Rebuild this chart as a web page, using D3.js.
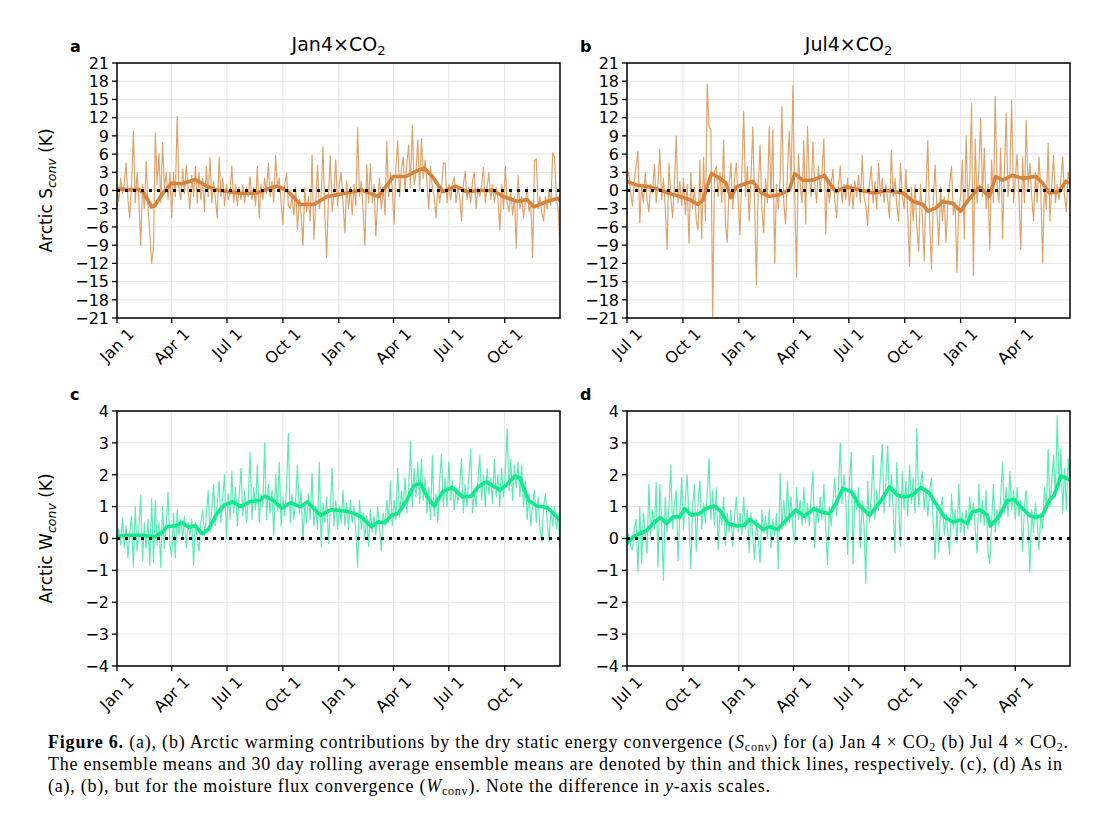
<!DOCTYPE html>
<html lang="en">
<head>
<meta charset="UTF-8">
<title>Arctic warming contributions</title>
<script src="https://cdnjs.cloudflare.com/ajax/libs/d3/7.8.5/d3.min.js"></script>
<style>
  body { margin: 0; background: #fff; }
  svg text { font-family: "DejaVu Sans", sans-serif; fill: #000; }
  svg .caption text { font-family: "Liberation Serif", serif; }
</style>
</head>
<body>
<div id="chart"></div>
<script>
// ensemble means, one value every 3 days (day 0, 3, 6 ... 729)
var thinStep = 3;

var sJanThin = [
  0.5,-1.8,2.0,-0.5,1.2,4.5,-1.5,-4.5,1.0,9.8,
  -2.0,3.0,-1.5,-9.0,1.0,-3.0,4.8,-2.5,-7.0,-12.0,
  -9.5,9.5,1.0,6.0,-2.0,7.9,0.5,3.0,-1.5,3.0,
  -4.5,3.0,-1.0,12.2,0.5,-1.5,3.5,-0.5,4.2,0.0,
  -3.0,2.5,-1.0,4.0,-2.0,3.0,-1.5,2.0,-3.5,4.0,
  -1.0,5.5,-2.0,1.5,-1.5,-4.5,5.5,-1.0,2.0,-2.5,
  1.0,-1.5,-0.5,4.0,-2.0,1.0,-2.5,0.5,-1.5,1.0,
  -2.0,0.5,-1.0,2.3,-1.5,0.5,-2.5,4.0,-4.5,1.0,
  -1.5,2.0,-0.5,4.5,-1.0,1.5,-2.0,5.8,0.5,2.0,
  -2.0,-5.5,1.0,2.9,-2.5,-3.0,-1.0,-4.0,0.5,-6.5,
  -1.5,-4.0,-9.0,0.5,-3.5,-1.0,-5.0,5.8,-8.0,-2.0,
  4.2,-3.0,-1.0,7.2,-4.0,-11.0,-1.0,5.7,-3.5,-0.5,
  5.0,-2.5,1.0,3.0,-2.0,-7.0,1.5,-3.0,0.5,-4.0,
  1.0,-2.5,10.3,-1.0,1.5,-3.5,-9.0,4.2,-2.0,4.4,
  -2.0,1.0,-7.5,-1.5,2.0,-3.0,0.5,-4.0,8.0,-1.0,
  3.0,0.5,-5.5,4.0,8.2,-1.0,3.5,5.5,0.0,4.5,
  7.5,0.5,10.8,1.0,3.0,8.3,0.0,8.6,2.0,5.0,
  1.5,-3.0,4.0,0.5,-1.0,-4.5,1.0,-2.0,0.5,4.5,
  4.5,-2.0,1.0,-1.5,1.0,2.2,-2.0,0.5,-1.0,-5.0,
  1.0,3.2,-1.5,0.5,-2.0,1.5,3.0,-3.0,0.5,-1.0,
  1.0,3.8,-2.0,0.5,3.0,-1.5,1.0,-2.0,0.5,-1.5,
  -6.5,1.0,-3.0,4.0,-2.0,-3.5,0.0,-4.0,-1.0,-9.5,
  2.5,-3.0,-1.0,-4.5,-2.0,0.5,-3.5,-2.0,-11.0,5.0,
  5.2,-3.0,-1.0,-3.5,-5.0,-1.0,-3.0,0.0,-2.5,6.2,
  5.5,-1.5,-3.0,-9.5
];

var sJulThin = [
  2.0,3.0,-0.5,-2.5,1.5,4.0,6.5,-5.3,1.0,-2.0,
  3.0,-1.5,-3.5,1.0,-0.5,4.3,-2.0,1.0,6.8,-1.5,
  2.0,-3.0,-9.7,4.5,-1.0,-4.5,1.0,9.0,-2.0,1.5,
  -2.5,2.0,-4.0,1.0,-8.7,3.0,-3.0,0.5,-5.0,-6.5,
  5.0,-8.0,5.5,-5.0,17.5,10.5,10.0,-20.7,3.0,4.0,
  -1.0,3.0,-2.0,8.3,-5.5,-8.5,1.0,4.5,-3.0,2.0,
  4.5,-2.0,-7.3,3.0,13.0,-1.0,4.0,-5.0,2.0,10.5,
  -2.0,-15.6,1.0,7.5,-3.0,-7.0,2.0,-2.0,10.5,-1.0,
  10.0,-12.0,1.0,-3.0,2.0,13.8,-2.0,-5.5,3.0,9.8,
  1.0,17.3,-1.0,-14.3,6.0,1.0,-2.0,8.2,-5.5,10.6,
  2.0,-1.0,8.0,1.0,-2.0,4.0,0.0,3.0,8.5,-7.2,
  2.0,-2.0,1.0,3.5,-1.5,-4.5,1.0,4.0,-2.0,1.0,
  -1.5,2.0,-2.5,1.0,-3.0,1.5,-1.0,2.5,-2.0,5.8,
  -1.0,-2.5,-5.7,1.0,4.0,-2.0,1.5,-3.0,4.5,-1.0,
  2.0,-2.0,1.0,-1.5,-4.5,6.7,-1.0,2.0,-2.5,-5.0,
  4.5,-1.0,-3.0,3.5,-4.0,-12.5,0.5,-5.0,1.0,-6.0,
  -10.0,1.0,-4.0,-11.6,0.0,8.2,-5.0,-13.0,-2.0,4.2,
  -3.0,-9.0,0.5,-5.0,-1.0,-8.5,-2.0,1.0,4.0,-4.0,
  -2.0,-13.5,-3.0,-1.0,5.0,-8.0,9.0,-2.0,2.0,14.3,
  -14.0,8.5,-2.0,3.0,11.8,-1.0,7.0,-3.0,1.0,-9.7,
  5.0,-2.0,15.5,1.0,-2.0,7.0,-8.0,3.0,12.8,-1.0,
  3.0,14.8,-2.0,2.0,6.0,-1.0,-9.7,5.5,-2.0,11.6,
  0.5,4.5,-1.0,-5.0,3.0,-2.0,5.5,0.0,-12.0,1.0,
  -3.0,7.8,-5.0,1.0,5.8,-2.0,1.0,-1.5,2.0,5.5,
  -1.0,-3.5,3.0,1.0
];

var wJanThin = [
  0.0,0.3,-0.2,0.65,-0.3,0.4,-0.6,0.2,0.7,-0.9,
  1.0,-0.4,0.3,1.35,-0.7,0.5,-0.3,0.6,-0.85,1.25,
  -0.75,1.2,-0.2,0.5,-0.9,1.0,-0.3,0.4,1.45,-0.2,
  -0.55,0.8,-0.6,0.9,0.1,0.6,0.0,0.7,-0.3,0.5,
  0.1,0.6,-0.85,0.5,0.0,-0.4,0.5,0.9,0.1,0.7,
  1.5,0.2,0.9,1.7,0.4,1.1,1.8,0.5,1.3,2.0,
  0.0,1.4,0.6,2.1,0.8,1.6,0.4,1.3,2.2,0.7,
  1.5,0.5,1.2,2.7,0.6,1.6,0.9,2.3,0.5,1.4,
  1.0,3.0,0.6,1.7,0.8,1.5,0.1,2.0,0.9,2.4,
  0.4,1.3,0.7,1.6,3.3,0.5,1.4,0.6,1.2,2.3,
  0.8,1.5,-0.1,1.1,0.5,1.4,0.6,2.05,0.4,1.0,
  0.3,2.4,-0.25,1.1,0.5,1.3,-0.15,0.9,2.2,0.4,
  1.2,0.3,1.0,0.5,1.5,0.4,1.1,0.3,1.2,0.5,
  1.0,0.2,-0.9,1.2,0.3,0.8,0.0,0.7,-0.25,0.9,
  0.2,0.7,0.1,1.0,0.3,-0.4,0.8,0.4,1.2,0.5,
  1.8,0.4,1.2,0.6,2.2,0.7,1.5,0.9,1.9,0.8,
  1.5,3.05,1.0,2.2,1.3,2.4,1.1,2.5,1.2,1.9,
  0.8,1.6,0.6,2.6,0.7,1.4,0.5,1.8,2.65,1.0,
  1.9,1.0,2.4,1.2,1.8,0.9,1.6,1.1,1.7,2.5,
  0.8,1.7,1.0,1.9,2.8,0.8,1.5,1.0,1.8,2.6,
  1.2,2.0,1.0,2.2,1.4,1.9,1.1,2.5,1.3,2.0,
  1.0,2.2,1.3,2.1,3.45,1.5,2.5,1.2,2.3,1.6,
  2.4,1.3,2.3,1.0,1.8,0.6,1.4,0.4,1.1,1.5,
  0.5,1.3,0.3,-0.1,1.0,1.4,0.5,-0.1,0.9,0.4,
  1.0,0.3,0.8,-0.3
];

var wJulThin = [
  -0.2,0.15,-0.25,-0.35,0.3,0.6,-1.05,1.0,-0.8,0.8,
  0.2,-0.45,1.7,0.1,0.9,0.3,1.75,-0.9,1.7,0.4,
  -1.3,1.3,0.2,1.0,2.3,0.3,1.1,1.5,-0.7,0.8,
  1.9,0.3,1.2,2.0,0.5,-0.95,1.0,1.7,-0.4,1.2,
  1.8,0.3,1.1,0.5,1.4,2.5,0.6,1.5,0.4,1.6,
  -0.35,0.9,0.4,1.3,-0.2,0.8,0.2,0.9,-0.25,0.7,
  1.3,0.2,0.8,0.1,1.3,0.3,0.9,-0.45,0.8,0.1,
  -0.65,0.6,0.0,-0.75,0.9,0.2,0.7,0.0,0.9,-0.3,
  0.6,0.1,0.8,-0.95,2.05,0.3,1.2,0.4,1.8,0.5,
  1.3,0.3,-0.15,1.6,0.6,1.2,0.4,1.6,0.5,1.1,
  0.4,1.3,2.1,-0.3,1.0,0.5,1.3,0.6,1.7,0.3,
  -0.82,1.0,0.4,1.2,1.9,0.7,1.6,3.0,1.1,2.0,
  1.2,-0.5,1.8,2.7,-0.8,1.5,0.9,1.6,-0.3,1.2,
  0.4,-1.4,1.8,0.5,1.3,2.6,0.6,1.5,0.9,2.0,
  2.95,0.8,1.8,2.9,1.0,2.0,0.9,-0.45,2.4,1.1,
  -0.25,2.1,0.9,1.8,0.7,2.3,1.1,1.9,0.8,3.45,
  1.0,1.7,2.1,0.9,1.6,0.7,1.5,1.9,0.4,-0.65,
  1.0,-0.45,0.9,1.3,0.1,0.8,0.2,-0.5,1.4,0.3,
  0.9,-0.15,1.7,0.2,0.8,0.1,0.9,0.3,1.3,0.6,
  1.1,0.3,-0.45,1.7,0.5,1.2,0.4,1.5,-0.4,-0.8,
  0.5,1.7,0.2,0.9,0.4,1.3,2.4,0.8,1.6,0.7,
  2.1,0.9,1.5,0.6,1.6,0.7,1.2,-0.4,1.0,1.5,
  0.4,-1.05,0.9,0.2,1.1,0.5,-0.35,0.8,0.3,1.6,
  0.9,2.8,1.0,1.8,2.6,1.3,3.85,1.5,2.8,0.8,
  2.2,0.9,2.5,1.8
];

// 30 day rolling averages, read at the days where the curve turns
var sJanRollDay = [0,20,35,45,57,62,75,90,107,129,146,163,185,207,229,250,263,280,302,324,346,374,402,430,455,475,491,505,519,536,558,575,597,619,636,658,675,686,708,725,729];
var sJanRollVal = [0.3,0.1,0.2,-0.5,-2.7,-2.5,-0.5,1.2,1.1,1.8,0.8,0.1,-0.2,-0.5,-0.4,0.3,0.7,0,-2.3,-2.3,-1.0,-0.5,0.1,-1.0,2.3,2.3,3.1,3.7,2.3,-0.2,0.7,-0.2,0,0,-1.0,-1.8,-1.5,-2.7,-1.8,-1.3,-1.6];

var sJulRollDay = [0,15,37,54,70,87,103,117,125,139,153,163,171,180,196,207,221,235,251,267,276,289,306,325,333,344,361,383,405,427,454,471,487,495,508,519,536,549,560,580,596,607,618,634,651,673,684,695,711,722,729];
var sJulRollVal = [1.5,0.9,0.6,0.1,-0.5,-1.0,-1.5,-2.3,-1.5,2.8,2.0,1.2,-1.2,0.6,1.2,1.5,-0.4,-1.0,-0.7,0.1,2.8,1.7,1.7,2.5,1.2,-0.2,0.6,0.1,-0.4,0,-0.4,-1.8,-2.3,-3.4,-2.9,-1.8,-2.1,-3.4,-1.8,0.6,-1.0,2.3,1.7,2.5,2.0,2.3,1.2,-0.4,-0.2,1.5,1.2];

var wJanRollDay = [0,18,40,62,75,82,96,107,118,129,140,151,165,177,190,204,218,235,243,257,271,285,302,313,335,352,374,391,402,419,430,441,452,463,477,488,499,511,522,536,552,569,583,594,608,619,630,641,655,663,677,691,708,729];
var wJanRollVal = [0.07,0.1,0.1,0.05,0.2,0.37,0.4,0.5,0.35,0.4,0.15,0.3,0.8,1.05,1.15,1.0,1.15,1.2,1.33,1.2,0.95,1.12,1.0,1.15,0.73,0.9,0.87,0.78,0.68,0.37,0.52,0.5,0.73,0.8,1.2,1.65,1.73,1.3,1.02,1.47,1.6,1.3,1.33,1.62,1.78,1.65,1.52,1.68,1.96,1.9,1.2,1.02,0.97,0.58];

var wJulRollDay = [0,10,21,32,43,55,65,76,87,95,106,119,130,144,155,166,180,193,202,213,224,235,248,262,278,292,308,319,333,344,355,369,382,399,415,432,445,456,470,484,498,508,522,536,549,560,568,582,593,598,612,626,637,648,662,673,684,695,703,714,722,729];
var wJulRollVal = [-0.15,0.05,0.15,0.25,0.47,0.66,0.47,0.68,0.68,0.94,0.73,0.78,0.94,1.02,0.84,0.47,0.39,0.42,0.6,0.45,0.28,0.37,0.28,0.58,0.89,0.7,0.94,0.84,0.78,1.1,1.57,1.47,1.05,0.73,1.1,1.62,1.36,1.3,1.36,1.6,1.41,1.1,0.68,0.52,0.58,0.47,0.84,0.89,0.73,0.39,0.68,1.2,1.22,1.0,0.73,0.66,0.73,1.2,1.36,1.96,1.9,1.83];

// axis ticks
var janTickDays = [0, 90, 181, 273, 365, 455, 546, 638];
var janTickLabels = ['Jan 1', 'Apr 1', 'Jul 1', 'Oct 1', 'Jan 1', 'Apr 1', 'Jul 1', 'Oct 1'];
var julTickDays = [0, 92, 184, 274, 365, 457, 549, 639];
var julTickLabels = ['Jul 1', 'Oct 1', 'Jan 1', 'Apr 1', 'Jul 1', 'Oct 1', 'Jan 1', 'Apr 1'];
var sTicks = [21, 18, 15, 12, 9, 6, 3, 0, -3, -6, -9, -12, -15, -18, -21];
var wTicks = [4, 3, 2, 1, 0, -1, -2, -3, -4];

var width = 1095, height = 831;
var plotW = 443, plotH = 255;
var tickFont = 16;

var svg = d3.select('#chart')
  .append('svg')
  .attr('width', width)
  .attr('height', height);

function toPoints(vals) {
  return vals.map(function(v, i) { return { d: i * thinStep, v: v }; });
}
function zipPoints(days, vals) {
  return days.map(function(d, i) { return { d: d, v: vals[i] }; });
}

var panels = [
  { key: 'a', left: 117, top: 63, thin: sJanThin, rollD: sJanRollDay, rollV: sJanRollVal,
    ticks: sTicks, tickDays: janTickDays, tickLabels: janTickLabels, title: 'Jan', ylab: 'S',
    thinColor: '#dfa46c', thickColor: '#d5833d' },
  { key: 'b', left: 627, top: 63, thin: sJulThin, rollD: sJulRollDay, rollV: sJulRollVal,
    ticks: sTicks, tickDays: julTickDays, tickLabels: julTickLabels, title: 'Jul', ylab: null,
    thinColor: '#dfa46c', thickColor: '#d5833d' },
  { key: 'c', left: 117, top: 411, thin: wJanThin, rollD: wJanRollDay, rollV: wJanRollVal,
    ticks: wTicks, tickDays: janTickDays, tickLabels: janTickLabels, title: null, ylab: 'W',
    thinColor: '#5eeab4', thickColor: '#14e88c' },
  { key: 'd', left: 627, top: 411, thin: wJulThin, rollD: wJulRollDay, rollV: wJulRollVal,
    ticks: wTicks, tickDays: julTickDays, tickLabels: julTickLabels, title: null, ylab: null,
    thinColor: '#5eeab4', thickColor: '#14e88c' }
];

panels.forEach(drawPanel);

function drawPanel(p) {
  var yMax = d3.max(p.ticks), yMin = d3.min(p.ticks);
  var x = d3.scaleLinear().domain([0, 729]).range([p.left, p.left + plotW]);
  var y = d3.scaleLinear().domain([yMin, yMax]).range([p.top + plotH, p.top]);
  var bottom = p.top + plotH;

  var g = svg.append('g');

  g.append('clipPath').attr('id', 'clip-' + p.key)
    .append('rect')
    .attr('x', p.left).attr('y', p.top)
    .attr('width', plotW).attr('height', plotH);

  // grid
  g.selectAll('.hgrid').data(p.ticks).enter().append('line')
    .attr('x1', p.left).attr('x2', p.left + plotW)
    .attr('y1', function(d) { return y(d); })
    .attr('y2', function(d) { return y(d); })
    .attr('stroke', '#e2e2e2').attr('stroke-width', 0.9);
  g.selectAll('.vgrid').data(p.tickDays).enter().append('line')
    .attr('x1', function(d) { return x(d); })
    .attr('x2', function(d) { return x(d); })
    .attr('y1', p.top).attr('y2', bottom)
    .attr('stroke', '#e2e2e2').attr('stroke-width', 0.9);

  var line = d3.line()
    .x(function(d) { return x(d.d); })
    .y(function(d) { return y(d.v); });

  var lines = g.append('g').attr('clip-path', 'url(#clip-' + p.key + ')');

  lines.append('path')
    .datum(toPoints(p.thin))
    .attr('d', line)
    .attr('fill', 'none')
    .attr('stroke', p.thinColor)
    .attr('stroke-width', 1.2)
    .attr('stroke-linejoin', 'round');

  lines.append('path')
    .datum(zipPoints(p.rollD, p.rollV))
    .attr('d', line)
    .attr('fill', 'none')
    .attr('stroke', p.thickColor)
    .attr('stroke-width', 3.6)
    .attr('stroke-linejoin', 'round')
    .attr('stroke-linecap', 'round');

  // zero line
  lines.append('line')
    .attr('x1', p.left).attr('x2', p.left + plotW)
    .attr('y1', y(0)).attr('y2', y(0))
    .attr('stroke', '#000')
    .attr('stroke-width', 3)
    .attr('stroke-dasharray', '3,5');

  // frame
  g.append('rect')
    .attr('x', p.left).attr('y', p.top)
    .attr('width', plotW).attr('height', plotH)
    .attr('fill', 'none').attr('stroke', '#000').attr('stroke-width', 1.5);

  // y ticks
  g.selectAll('.ytick').data(p.ticks).enter().append('line')
    .attr('x1', p.left - 5).attr('x2', p.left)
    .attr('y1', function(d) { return y(d); })
    .attr('y2', function(d) { return y(d); })
    .attr('stroke', '#000').attr('stroke-width', 1.3);
  g.selectAll('.ylabel').data(p.ticks).enter().append('text')
    .attr('x', p.left - 8)
    .attr('y', function(d) { return y(d); })
    .attr('dy', '0.36em')
    .attr('text-anchor', 'end')
    .attr('font-size', tickFont)
    .text(function(d) { return d < 0 ? '\u2212' + Math.abs(d) : d; });

  // x ticks
  g.selectAll('.xtick').data(p.tickDays).enter().append('line')
    .attr('x1', function(d) { return x(d); })
    .attr('x2', function(d) { return x(d); })
    .attr('y1', bottom).attr('y2', bottom + 5)
    .attr('stroke', '#000').attr('stroke-width', 1.3);
  p.tickDays.forEach(function(d, i) {
    var t = g.append('text')
      .attr('font-size', tickFont)
      .attr('text-anchor', 'middle')
      .attr('dominant-baseline', 'central')
      .text(p.tickLabels[i]);
    var w = t.node().getComputedTextLength();
    var cx = x(d), cy = bottom + 8 + (w + tickFont * 0.9) / (2 * Math.SQRT2);
    t.attr('x', cx).attr('y', cy)
      .attr('transform', 'rotate(-45,' + cx + ',' + cy + ')');
  });

  // panel letter
  svg.append('text')
    .attr('x', p.left - 47).attr('y', p.top - 11)
    .attr('font-size', 16).attr('font-weight', 'bold')
    .text(p.key);

  if (p.title) {
    var tt = svg.append('text')
      .attr('x', p.left + plotW / 2).attr('y', p.top - 12)
      .attr('text-anchor', 'middle')
      .attr('font-size', 19);
    tt.append('tspan').text(p.title + '4\u00d7CO');
    tt.append('tspan').attr('font-size', 13).attr('dy', 4).text('2');
  }

  if (p.ylab) {
    var cy2 = p.top + plotH / 2;
    var yl = svg.append('text')
      .attr('transform', 'translate(52,' + cy2 + ') rotate(-90)')
      .attr('text-anchor', 'middle')
      .attr('font-size', 17);
    yl.append('tspan').text('Arctic ' + p.ylab);
    yl.append('tspan').attr('font-size', 12.5).attr('font-style', 'italic').attr('dy', 3.5).text('conv');
    yl.append('tspan').attr('dy', -3.5).text(' (K)');
  }
}

// caption
var cap = svg.append('g').attr('class', 'caption');
var capX = 48, capSize = 18;

var l1 = cap.append('text').attr('x', capX).attr('y', 748).attr('font-size', capSize)
  .attr('textLength', 1020).attr('lengthAdjust', 'spacing');
l1.append('tspan').attr('font-weight', 'bold').text('Figure 6.');
l1.append('tspan').text(' (a), (b) Arctic warming contributions by the dry static energy convergence (');
l1.append('tspan').attr('font-style', 'italic').text('S');
l1.append('tspan').attr('font-size', 12).attr('dy', 3).text('conv');
l1.append('tspan').attr('dy', -3).text(') for (a) Jan 4 \u00d7 CO');
l1.append('tspan').attr('font-size', 12).attr('dy', 3).text('2');
l1.append('tspan').attr('dy', -3).text(' (b) Jul 4 \u00d7 CO');
l1.append('tspan').attr('font-size', 12).attr('dy', 3).text('2');
l1.append('tspan').attr('dy', -3).text('.');

cap.append('text').attr('x', capX).attr('y', 770).attr('font-size', capSize)
  .attr('textLength', 1014).attr('lengthAdjust', 'spacing')
  .text('The ensemble means and 30 day rolling average ensemble means are denoted by thin and thick lines, respectively. (c), (d) As in');

var l3 = cap.append('text').attr('x', capX).attr('y', 792).attr('font-size', capSize)
  .attr('textLength', 722).attr('lengthAdjust', 'spacing');
l3.append('tspan').text('(a), (b), but for the moisture flux convergence (');
l3.append('tspan').attr('font-style', 'italic').text('W');
l3.append('tspan').attr('font-size', 12).attr('dy', 3).text('conv');
l3.append('tspan').attr('dy', -3).text('). Note the difference in ');
l3.append('tspan').attr('font-style', 'italic').text('y');
l3.append('tspan').text('-axis scales.');
</script>
</body>
</html>
